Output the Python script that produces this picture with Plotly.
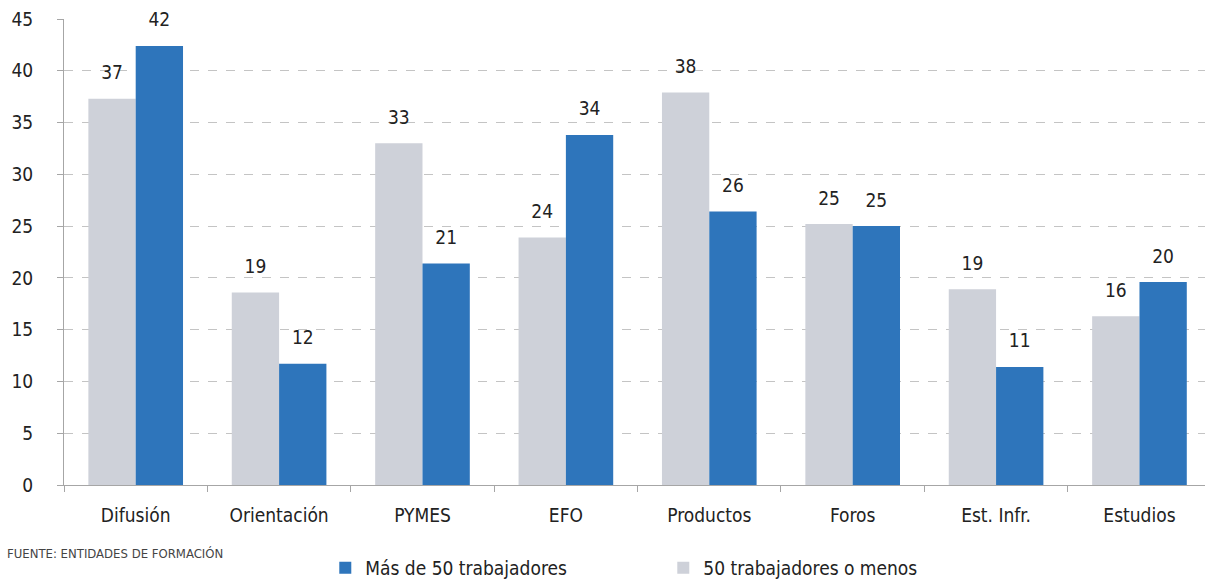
import plotly.graph_objects as go

categories = ["Difusión", "Orientación", "PYMES", "EFO", "Productos", "Foros", "Est. Infr.", "Estudios"]
menos_50 = [37.3, 18.6, 33.0, 23.9, 37.9, 25.2, 18.9, 16.3]
mas_50 = [42.4, 11.7, 21.4, 33.8, 26.4, 25.0, 11.4, 19.6]
y_ticks = [0, 5, 10, 15, 20, 25, 30, 35, 40, 45]

FONT = "DejaVu Sans Condensed, sans-serif"
TXT = "#222222"
FS = 19

fig = go.Figure()
series = [("50 trabajadores o menos", menos_50, "#CED1D9", "g1"),
          ("Más de 50 trabajadores", mas_50, "#2E75BB", "g2")]
for name, vals, color, grp in series:
    fig.add_trace(go.Bar(
        x=categories, y=vals, name=name, offsetgroup=grp, alignmentgroup="a",
        marker=dict(color=color, line=dict(width=0)),
    ))
for name, vals, color, grp in series:
    fig.add_trace(go.Scatter(
        x=categories, y=vals, mode="markers+text", offsetgroup=grp, alignmentgroup="a",
        text=[f"{v:.0f}" for v in vals], textposition="top center",
        marker=dict(size=22, opacity=0), showlegend=False, hoverinfo="skip",
        textfont=dict(family=FONT, size=FS, color=TXT), cliponaxis=False,
    ))

fig.update_layout(
    width=1205, height=580,
    margin=dict(l=64, r=0, t=19, b=95, autoexpand=False),
    paper_bgcolor="white", plot_bgcolor="white",
    font=dict(family=FONT, size=FS, color=TXT),
    barmode="group", bargap=0.34, bargroupgap=0,
    scattermode="group", scattergap=0.34,
    showlegend=True,
    legend=dict(orientation="h", traceorder="reversed", x=0.229, xanchor="left",
                y=-0.178, yanchor="middle", entrywidth=293, entrywidthmode="pixels",
                font=dict(family=FONT, size=FS, color=TXT), itemclick=False),
    xaxis=dict(range=[-0.5, 7.457], showline=True, linecolor="#A6A6A6", linewidth=1,
               ticks="outside", tickson="boundaries", ticklen=6, tickcolor="#A6A6A6",
               ticklabelstandoff=13,
               showgrid=False, tickfont=dict(family=FONT, size=FS, color=TXT)),
    yaxis=dict(range=[0, 45], tickvals=y_ticks, showline=True, linecolor="#A6A6A6", linewidth=1,
               ticks="outside", ticklen=6, tickcolor="#A6A6A6", ticklabelstandoff=20,
               showgrid=True, gridcolor="#C4C4C4", griddash="dash", gridwidth=1,
               zeroline=False, tickfont=dict(family=FONT, size=FS, color=TXT)),
    annotations=[dict(text="FUENTE: ENTIDADES DE FORMACIÓN", xref="paper", yref="paper",
                      x=-0.052, y=-0.146, xanchor="left", yanchor="middle", showarrow=False,
                      font=dict(family=FONT, size=13, color="#444444"))],
)

fig.write_html("out.html", config={"displayModeBar": False},
               post_script="document.body.style.margin='0';")
